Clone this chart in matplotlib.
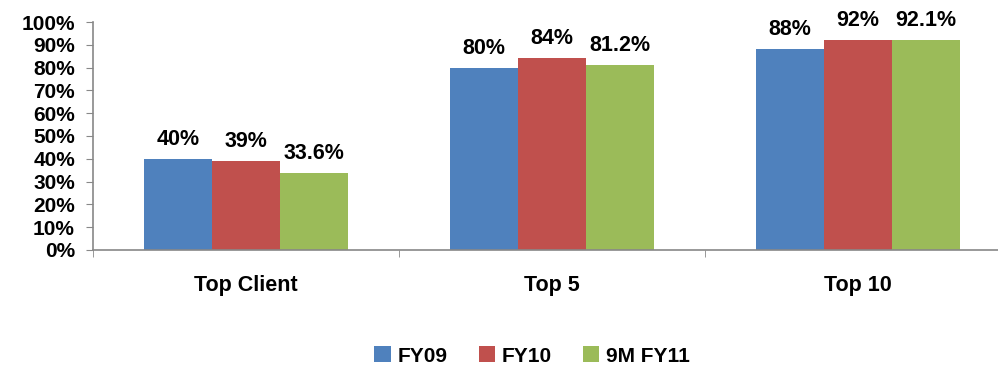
import numpy as np
import matplotlib.pyplot as plt
from matplotlib.ticker import FixedLocator

plt.rcParams['font.family'] = ['Liberation Sans', 'DejaVu Sans']
plt.rcParams['font.weight'] = 'bold'

# Revenue concentration by client group
categories = ['Top Client', 'Top 5', 'Top 10']
series = ['FY09', 'FY10', '9M FY11']
fy09 = [40, 80, 88]
fy10 = [39, 84, 92]
fy11_9m = [33.6, 81.2, 92.1]
labels = [['40%', '80%', '88%'],
          ['39%', '84%', '92%'],
          ['33.6%', '81.2%', '92.1%']]
colors = ['#4F81BD', '#C0504D', '#9BBB59']

fig = plt.figure(figsize=(9.98, 3.67), dpi=100)
ax = fig.add_axes([0.0932, 0.319, 0.92, 0.621])

x = np.arange(len(categories))
w = 0.222
for i, (vals, lab) in enumerate(zip([fy09, fy10, fy11_9m], labels)):
    pos = x + (i - 1) * w
    ax.bar(pos, vals, width=w, color=colors[i], label=series[i])
    for p, v, t in zip(pos, vals, lab):
        ax.annotate(t, (p, v), xytext=(0, 6.5), textcoords='offset points',
                    ha='center', va='bottom', fontsize=15.5, fontweight='bold')

ax.set_xlim(-0.5, 2.5)
ax.set_ylim(0, 100)
ax.set_yticks(np.arange(0, 101, 10))
ax.set_yticklabels([f'{v}%' for v in range(0, 101, 10)], fontsize=15, fontweight='bold')
ax.set_xticks(x)
ax.set_xticklabels(categories, fontsize=15.5, fontweight='bold')
ax.tick_params(axis='x', which='major', length=0, pad=18)
ax.xaxis.set_minor_locator(FixedLocator([-0.5, 0.5, 1.5, 2.5]))
ax.tick_params(axis='x', which='minor', length=5, color='#888888', direction='out')
ax.tick_params(axis='y', length=5, color='#888888', direction='out', pad=8)

for s in ['top', 'right']:
    ax.spines[s].set_visible(False)
for s in ['left', 'bottom']:
    ax.spines[s].set_color('#888888')
    ax.spines[s].set_linewidth(1.2)

ax.legend(loc='center', bbox_to_anchor=(532 / 998, 11 / 367), bbox_transform=fig.transFigure,
          ncol=3, frameon=False, fontsize=15, handlelength=0.8, handleheight=0.8,
          handletextpad=0.3, columnspacing=1.5)

fig.savefig('out.png', dpi=100)
